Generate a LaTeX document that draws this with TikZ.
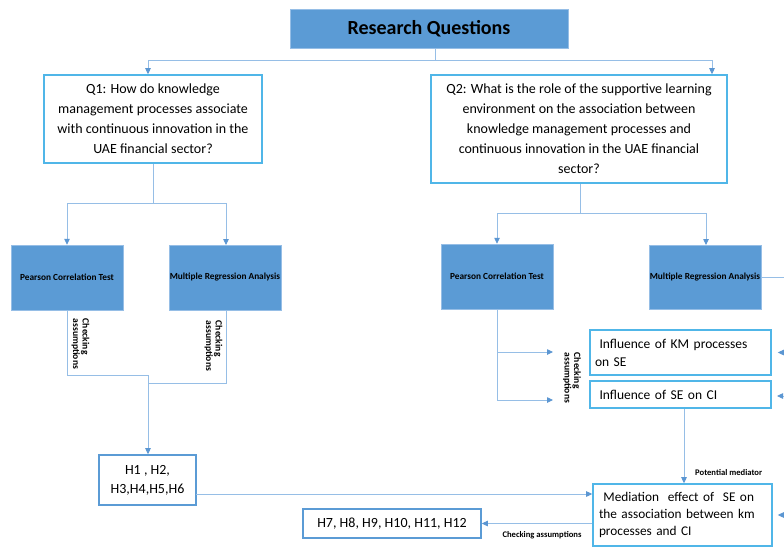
\documentclass[tikz,border=0pt]{standalone}
\usepackage{fontspec}
\setmainfont{Carlito}
\usetikzlibrary{arrows.meta,calc}
\definecolor{boxfill}{RGB}{91,155,213}
\definecolor{qedge}{RGB}{80,182,232}
\definecolor{hedge}{RGB}{91,155,213}
\definecolor{wire}{RGB}{150,190,230}
\definecolor{tipc}{RGB}{91,150,210}
\tikzset{
  qbox/.style={draw=qedge, line width=1.6pt, fill=white, align=center, inner sep=0pt,
    font=\fontsize{14}{20}\selectfont},
  testbox/.style={draw=wire, line width=0.5pt, fill=boxfill, inner sep=0pt, align=center,
    font=\bfseries\fontsize{9.3}{11}\selectfont},
  hbox/.style={draw=hedge, line width=1.6pt, fill=white, align=center, inner sep=0pt,
    font=\fontsize{14}{19}\selectfont},
  ibox/.style={draw=qedge, line width=1.6pt, fill=white, align=left, inner xsep=5pt, inner ysep=0pt,
    font=\fontsize{13.5}{18}\selectfont},
  wireline/.style={draw=wire, line width=0.8pt},
  arr/.style={wireline, -{Triangle[length=6pt,width=5.5pt,color=tipc]}},
  note/.style={font=\bfseries\fontsize{8.6}{9}\selectfont, inner sep=0pt},
  vnote/.style={inner sep=0pt, rotate=-90, align=left, font=\bfseries\fontsize{9.6}{9.5}\selectfont}
}
\begin{document}
\begin{tikzpicture}[x=1pt,y=-1pt]
\useasboundingbox (0,0) rectangle (784,547);
\clip (0,0) rectangle (784,547);
\fill[white] (0,0) rectangle (784,547);

% title
\node[fill=boxfill, draw=wire, line width=0.5pt, minimum width=278pt, minimum height=39pt,
  font=\bfseries\fontsize{20}{24}\selectfont] (title) at (429,28.5) {Research Questions};

% research questions
\node[qbox, minimum width=218pt, minimum height=88pt] (q1) at (153,119)
  {Q1: How do knowledge\\management processes associate\\with continuous innovation in the\\UAE financial sector?};
\node[qbox, minimum width=296pt, minimum height=108pt] (q2) at (579,129)
  {Q2: What is the role of the supportive learning\\environment on the association between\\knowledge management processes and\\continuous innovation in the UAE financial\\sector?};

% analysis boxes
\node[testbox, minimum width=112pt, minimum height=65pt] (pct1) at (67,277.5) {Pearson Correlation Test};
\node[testbox, minimum width=112pt, minimum height=65pt] (mra1) at (225,277.5) {Multiple Regression Analysis};
\node[testbox, minimum width=112pt, minimum height=65pt] (pct2) at (497,276.5) {Pearson Correlation Test};
\node[testbox, minimum width=112pt, minimum height=64pt] (mra2) at (705,277) {Multiple Regression Analysis};

% results
\node[hbox, minimum width=97pt, minimum height=50pt] (h16) at (147.5,480) {H1 , H2,\\H3,H4,H5,H6};
\node[hbox, minimum width=178pt, minimum height=29pt] (h712) at (392,523.5) {H7, H8, H9, H10, H11, H12};
\node[ibox, minimum width=181pt, minimum height=45pt, text width=171pt] (km) at (680.5,352.5)
  {\ Influence of KM processes\\on SE};
\node[ibox, minimum width=181pt, minimum height=27pt, text width=171pt] (seci) at (680.5,394.5)
  {\ Influence of SE on CI};
\node[ibox, minimum width=179pt, minimum height=62pt, text width=167pt, inner xsep=6pt,
  font=\fontsize{13.3}{17}\selectfont] (med) at (682.5,515)
  {\ Mediation\ \ effect of\ \ SE on\\the association between km\\processes and CI};

% top split
\coordinate (rq) at (435,60);
\coordinate (rqL) at (148,60);
\coordinate (rqR) at (712,60);
\draw[wireline] (title.south -| rq) -- (rq);
\draw[wireline] (rqL) -- (rqR);
\draw[arr] (rqL) -- (rqL |- q1.north);
\draw[arr] (rqR) -- (rqR |- q2.north);

% Q1 branch
\coordinate (s1) at (153,203);
\draw[wireline] (q1.south) -- (s1);
\draw[wireline] (s1 -| pct1) -- (226,203);
\draw[arr] (s1 -| pct1) -- (pct1.north);
\draw[arr] (226,203) -- (226,245);
\coordinate (j1) at (148,375);
\draw[wireline] (pct1.south) -- (pct1.south |- j1) -- (j1);
\draw[wireline] (226,310) -- (226,383) -- (148,383);
\draw[arr] (j1) -- (j1 |- h16.north);
\node[vnote] (ca1) at (80.5,344) {Checking\\assumptions};
\node[vnote] (ca2) at (213.5,346) {Checking\\assumptions};

% Q2 branch
\coordinate (s2) at (580,213);
\draw[wireline] (s2 |- q2.south) -- (s2);
\draw[wireline] (s2 -| pct2) -- (706,213);
\draw[arr] (s2 -| pct2) -- (pct2.north);
\draw[arr] (706,213) -- (706,245);
\coordinate (b1) at (553,352);
\coordinate (b2) at (553,400);
\draw[wireline] (pct2.south) -- (pct2.south |- b2);
\draw[arr] (pct2.south |- b1) -- (b1);
\draw[arr] (pct2.south |- b2) -- (b2);
\node[vnote] (ca3) at (572,378) {Checking\\assumptions};

% right-hand return paths
\coordinate (edge) at (800,0);
\draw[wireline] (mra2.east) -- (mra2.east -| edge);
\draw[arr, shorten >=6pt] (edge |- km.east) -- (km.east);
\draw[arr, shorten >=6pt] (800,396) -- (771,396);
\draw[arr, shorten >=5pt] (800,515) -- (med.east);

% mediation
\coordinate (pm) at (684,0);
\draw[arr] (pm |- seci.south) -- (pm |- med.north);
\node[note, anchor=west] (pmlab) at (695,472) {Potential mediator};
\coordinate (hm) at (196,494);
\draw[arr] (hm) -- (hm -| med.west);
\draw[arr] (med.west |- h712.east) -- (h712.east);
\node[note] (ca4) at (542,535) {Checking assumptions};
\end{tikzpicture}
\end{document}
